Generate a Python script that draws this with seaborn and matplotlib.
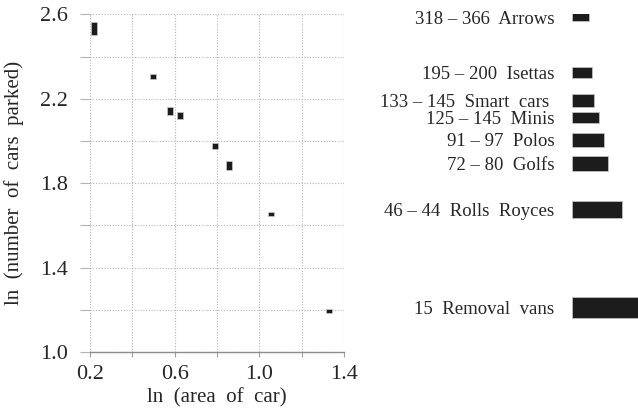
#!/usr/bin/env python3
"""Cars parked vs car area (log-log), with car length silhouettes on the right."""

import seaborn as sns
import matplotlib.pyplot as plt

# ln(area of car): centre of each measurement box
area_ln = [0.219, 0.498, 0.578, 0.627, 0.789, 0.858, 1.057, 1.328]
# ln(number of cars parked): lower and upper end of each box
parked_lo = [2.503, 2.293, 2.124, 2.103, 1.960, 1.862, 1.642, 1.184]
parked_hi = [2.565, 2.317, 2.162, 2.136, 1.991, 1.904, 1.661, 1.204]

# cars, drawn as bars whose length is the car length (m)
car_labels = [
    "318 \u2013 366  Arrows",
    "195 \u2013 200  Isettas",
    "133 \u2013 145  Smart  cars ",
    "125 \u2013 145  Minis",
    "91 \u2013 97  Polos",
    "72 \u2013 80  Golfs",
    "46 \u2013 44  Rolls  Royces",
    "15  Removal  vans",
]
car_length = [1.90, 2.29, 2.48, 3.06, 3.69, 4.10, 5.78, 8.0]
car_row = [2.587, 2.325, 2.191, 2.111, 2.005, 1.893, 1.675, 1.212]
car_thick = [0.035, 0.054, 0.060, 0.055, 0.065, 0.071, 0.081, 0.101]

x_ticks = [0.2, 0.4, 0.6, 0.8, 1.0, 1.2, 1.4]
x_ticklabels = ["0.2", "", "0.6", "", "1.0", "", "1.4"]
y_ticks = [1.0, 1.2, 1.4, 1.6, 1.8, 2.0, 2.2, 2.4, 2.6]
y_ticklabels = ["1.0", "", "1.4", "", "1.8", "", "2.2", "", "2.6"]


def main():
    sns.set_theme(style="white")
    plt.rcParams["font.family"] = ["Liberation Serif", "DejaVu Serif"]

    fig = plt.figure(figsize=(6.38, 4.11), dpi=100)
    ax = fig.add_axes([0.1411, 0.1436, 0.3981, 0.8216])

    box_w = 0.028
    heights = [hi - lo for lo, hi in zip(parked_lo, parked_hi)]
    ax.bar(area_ln, heights, bottom=parked_lo, width=box_w,
           color="#1c1c1c", edgecolor="#c8c8c8", linewidth=0.5, zorder=3)

    ax.set_xlim(0.2, 1.4)
    ax.set_ylim(1.0, 2.6)
    ax.set_xticks(x_ticks, x_ticklabels)
    ax.set_yticks(y_ticks, y_ticklabels)
    ax.grid(True, linestyle=(0, (1, 1.5)), color="#b5b5b5", linewidth=0.8)
    for side in ["top", "right", "left"]:
        ax.spines[side].set_visible(False)
    ax.spines["bottom"].set_color("#8c8c8c")
    ax.spines["bottom"].set_linewidth(1.0)
    ax.tick_params(axis="x", length=3.6, width=0.8, color="#a0a0a0",
                   direction="out", labelsize=16, pad=6, bottom=True)
    ax.tick_params(axis="y", length=7.2, width=0.8, color="#b5b5b5",
                   direction="out", labelsize=16, pad=9, left=True)
    ax.set_xlabel("ln  (area  of  car)", fontsize=15, labelpad=3)
    ax.set_ylabel("ln  (number  of  cars  parked)", fontsize=15, labelpad=11)

    # car silhouettes on the right
    bx = fig.add_axes([0.897, 0.1436, 0.103, 0.8216])
    bx.barh(car_row, car_length, height=car_thick, left=0,
            color="#1c1c1c", edgecolor="#c8c8c8", linewidth=0.5)
    bx.set_xlim(0, 7.64)
    bx.set_ylim(1.0, 2.6)
    bx.set_yticks(car_row, car_labels)
    bx.set_xticks([])
    bx.tick_params(axis="y", length=0, labelsize=13.5, pad=13)
    for side in bx.spines:
        bx.spines[side].set_visible(False)
    bx.patch.set_alpha(0)

    fig.savefig("out.png", dpi=100)


if __name__ == "__main__":
    main()
